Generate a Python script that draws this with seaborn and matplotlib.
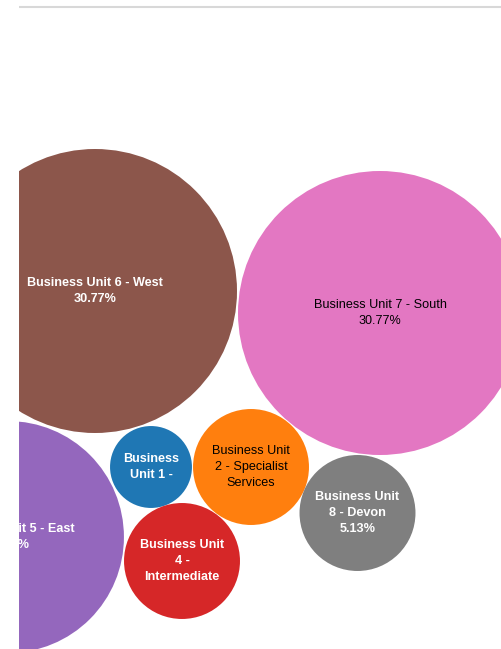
import matplotlib
matplotlib.use("Agg")
import matplotlib.pyplot as plt
import seaborn as sns
import pandas as pd

# ---- data ----
units = ["Business Unit 1", "Business Unit 2 - Specialist Services",
         "Business Unit 4 - Intermediate", "Business Unit 5 - East",
         "Business Unit 6 - West", "Business Unit 7 - South",
         "Business Unit 8 - Devon"]
percent = [2.56, 5.13, 5.13, 20.51, 30.77, 30.77, 5.13]
labels = ["Business\nUnit 1 -",
          "Business Unit\n2 - Specialist\nServices",
          "Business Unit\n4 -\nIntermediate",
          "Business Unit 5 - East\n20.51%",
          "Business Unit 6 - West\n30.77%",
          "Business Unit 7 - South\n30.77%",
          "Business Unit\n8 - Devon\n5.13%"]

# ---- layout / style (packed-bubble positions, pixels) ----
pos_x = [151, 251, 182, 8, 95, 380, 357.5]
pos_y = [467, 467, 561, 537, 291, 313, 513]
colors = ["#1f77b4", "#ff7f0e", "#d62728", "#9467bd", "#8c564b", "#e377c2", "#7f7f7f"]
text_colors = ["white", "black", "white", "white", "white", "black", "white"]

W, H, DPI = 502, 649, 100
R_MAX = 142.0  # radius in px of largest bubble
PCT_MAX = max(percent)

df = pd.DataFrame({"unit": units, "pct": percent, "x": pos_x, "y": pos_y})

sns.set_theme(style="white")
plt.rcParams["font.family"] = ["Liberation Sans", "DejaVu Sans"]

fig = plt.figure(figsize=(W / DPI, H / DPI), dpi=DPI)
left = 19
ax = fig.add_axes([left / W, 0, (W - left) / W, 1])
ax.set_xlim(left, W)
ax.set_ylim(H, 0)
ax.set_axis_off()

s_max = (2 * R_MAX * 72 / DPI) ** 2
sns.scatterplot(data=df, x="x", y="y", hue="unit", palette=dict(zip(units, colors)),
                size="pct", sizes=(0, s_max), size_norm=(0, PCT_MAX),
                linewidth=0, alpha=1, legend=False, ax=ax)

for lab, x, y, tc in zip(labels, pos_x, pos_y, text_colors):
    ax.text(x, y, lab, ha="center", va="center", color=tc, fontsize=9.1,
            fontweight="bold" if tc == "white" else "medium",
            linespacing=1.45, clip_on=True)

ax.axhline(6.5, color="#d8d8d8", lw=1.5)
ax.set_xlim(left, W)
ax.set_ylim(H, 0)

fig.savefig("out.png", dpi=DPI)
